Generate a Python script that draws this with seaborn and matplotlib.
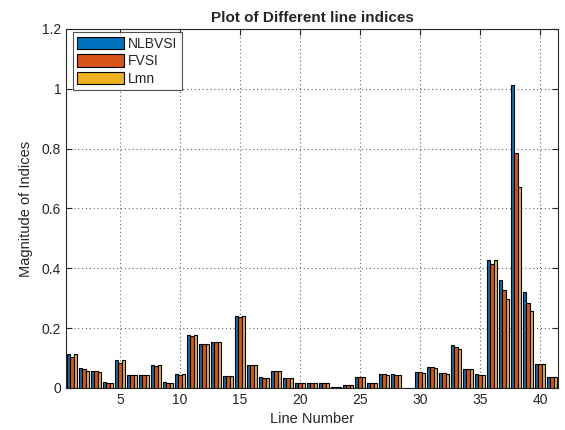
import numpy as np
import pandas as pd
import matplotlib
matplotlib.use("Agg")
import matplotlib.pyplot as plt
import seaborn as sns

# Index values for each transmission line (1..41)
lines = list(range(1, 42))
nlbvsi = [0.113, 0.067, 0.058, 0.020, 0.094, 0.043, 0.043, 0.078, 0.019, 0.047,
          0.178, 0.147, 0.155, 0.040, 0.241, 0.077, 0.036, 0.057, 0.035, 0.018,
          0.016, 0.018, 0.003, 0.009, 0.037, 0.016, 0.046, 0.046, 0.000, 0.055,
          0.069, 0.049, 0.143, 0.063, 0.047, 0.427, 0.361, 1.013, 0.320, 0.079,
          0.037]
fvsi = [0.105, 0.062, 0.056, 0.016, 0.083, 0.042, 0.043, 0.075, 0.016, 0.044,
        0.175, 0.147, 0.155, 0.040, 0.237, 0.077, 0.034, 0.057, 0.035, 0.018,
        0.016, 0.018, 0.003, 0.009, 0.037, 0.016, 0.046, 0.045, 0.000, 0.053,
        0.069, 0.049, 0.137, 0.063, 0.045, 0.413, 0.327, 0.786, 0.284, 0.079,
        0.037]
lmn = [0.113, 0.057, 0.052, 0.018, 0.094, 0.043, 0.043, 0.078, 0.018, 0.047,
       0.178, 0.147, 0.155, 0.040, 0.241, 0.077, 0.032, 0.057, 0.035, 0.018,
       0.016, 0.018, 0.003, 0.009, 0.037, 0.016, 0.045, 0.045, 0.000, 0.050,
       0.066, 0.048, 0.131, 0.063, 0.043, 0.427, 0.298, 0.671, 0.259, 0.079,
       0.037]
series_names = ["NLBVSI", "FVSI", "Lmn"]
colors = ["#0072BD", "#D95319", "#EDB120"]
x_ticks = [5, 10, 15, 20, 25, 30, 35, 40]
y_ticks = [0, 0.2, 0.4, 0.6, 0.8, 1.0, 1.2]
y_tick_labels = ["0", "0.2", "0.4", "0.6", "0.8", "1", "1.2"]

df = pd.DataFrame({
    "Line": lines * 3,
    "Value": nlbvsi + fvsi + lmn,
    "Index": [series_names[0]] * len(lines) + [series_names[1]] * len(lines)
             + [series_names[2]] * len(lines),
})

sns.set_style("ticks")
plt.rcParams["font.family"] = ["Liberation Sans", "DejaVu Sans"]

fig = plt.figure(figsize=(5.65, 4.30), dpi=100)
ax = fig.add_axes([0.1168, 0.0977, 0.8708, 0.8349])

sns.barplot(data=df, x="Line", y="Value", hue="Index", hue_order=series_names,
            palette=colors, width=0.78, gap=0, edgecolor="black", linewidth=0.8,
            saturation=1, errorbar=None, ax=ax, zorder=3)

ax.set_xlim(-0.5, len(lines) - 0.5)
ax.set_ylim(0, 1.2)
ax.set_xticks([lines.index(t) for t in x_ticks])
ax.set_xticklabels([str(t) for t in x_ticks])
ax.set_yticks(y_ticks)
ax.set_yticklabels(y_tick_labels)

ax.grid(True, linestyle=(0, (1, 2.5)), color="#666666", linewidth=0.8, zorder=0)
ax.set_axisbelow(True)
ax.tick_params(direction="in", top=True, right=True, length=4, width=0.8,
               labelsize=10, colors="#262626")
for s in ax.spines.values():
    s.set_visible(True)
    s.set_color("#262626")
    s.set_linewidth(0.8)

ax.set_xlabel("Line Number", fontsize=10.5, color="#262626", labelpad=4)
ax.set_ylabel("Magnitude of Indices", fontsize=10.5, color="#262626", labelpad=6)
ax.set_title("Plot of Different line indices", fontsize=11, fontweight="bold",
             pad=5)

leg = ax.legend(loc="upper left", bbox_to_anchor=(0.008, 0.998), fontsize=10,
                frameon=True, fancybox=False, edgecolor="#262626",
                handlelength=3.4, handleheight=1.0, handletextpad=0.3,
                labelspacing=0.25, borderpad=0.3, borderaxespad=0.2)
leg.get_frame().set_linewidth(0.8)

fig.savefig("out.png", dpi=100)
